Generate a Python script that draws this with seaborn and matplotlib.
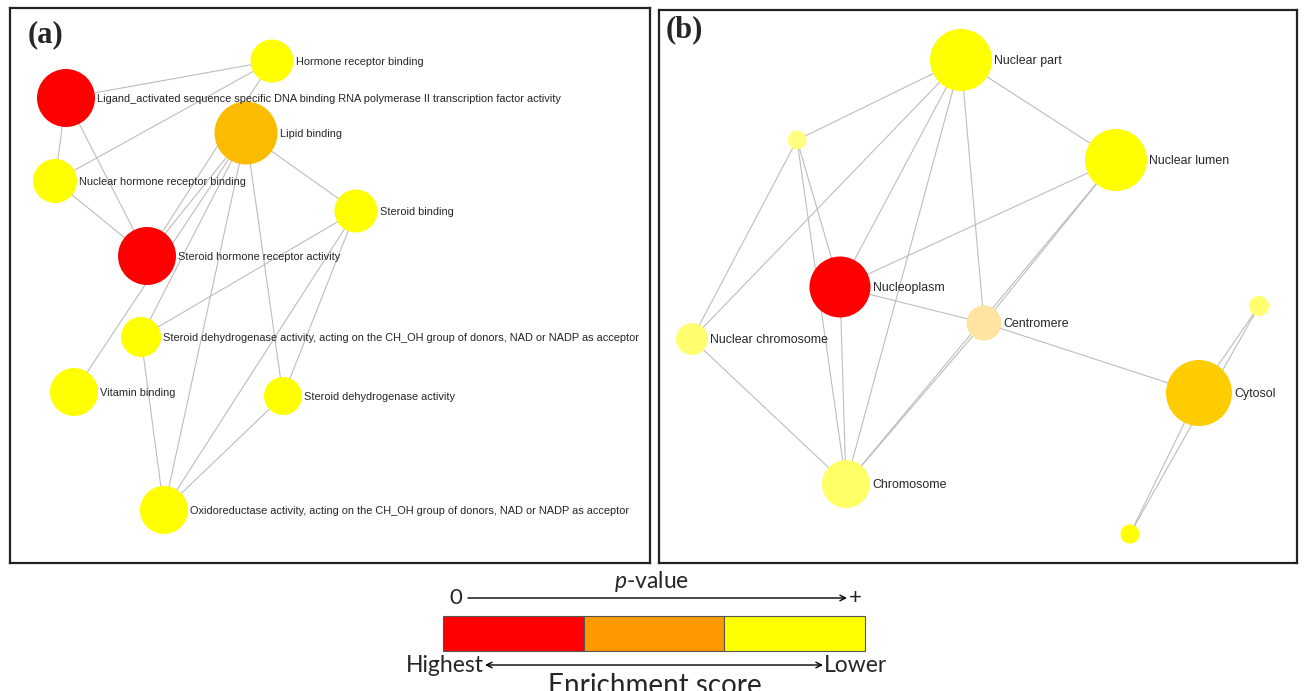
import numpy as np
import pandas as pd
import matplotlib
matplotlib.use("Agg")
import matplotlib.pyplot as plt
import seaborn as sns
from matplotlib import font_manager

W, H = 1306, 691

# panel (a): GO molecular function network
names_a = ["hrb", "lig", "lip", "nhrb", "sb", "shra", "sda1", "vit", "sda2", "oxi"]
labels_a = ["Hormone receptor binding",
            "Ligand_activated sequence specific DNA binding RNA polymerase II transcription factor activity",
            "Lipid binding",
            "Nuclear hormone receptor binding",
            "Steroid binding",
            "Steroid hormone receptor activity",
            "Steroid dehydrogenase activity, acting on the CH_OH group of donors, NAD or NADP as acceptor",
            "Vitamin binding",
            "Steroid dehydrogenase activity",
            "Oxidoreductase activity, acting on the CH_OH group of donors, NAD or NADP as acceptor"]
x_a = [272, 66, 246, 55, 356, 147, 141, 74, 283, 164]
y_a = [61, 98, 133, 181, 211, 256, 337, 392, 396, 510]
r_a = [21.5, 29, 31.5, 22, 21.5, 29, 20, 24, 19, 24]
col_a = ["#FFFF00", "#FF0000", "#FBBB00", "#FFFF00", "#FFFF00",
         "#FF0000", "#FFFF00", "#FFFF00", "#FFFF00", "#FFFF00"]
edges_a = [("lig", "hrb"), ("lig", "nhrb"), ("lig", "shra"), ("hrb", "nhrb"),
           ("hrb", "shra"), ("nhrb", "shra"), ("lip", "shra"), ("lip", "vit"),
           ("lip", "sda1"), ("lip", "oxi"), ("lip", "sda2"), ("lip", "sb"),
           ("sb", "sda1"), ("sb", "oxi"), ("sb", "sda2"), ("sda1", "oxi"),
           ("sda2", "oxi")]

# panel (b): GO cellular component network
names_b = ["npart", "n1", "lumen", "nplasm", "centro", "nchrom", "n2", "cyto", "chrom", "n3"]
labels_b = ["Nuclear part", "", "Nuclear lumen", "Nucleoplasm", "Centromere",
            "Nuclear chromosome", "", "Cytosol", "Chromosome", ""]
x_b = [961, 797, 1116, 840, 984, 692, 1259, 1199, 846, 1130]
y_b = [60, 140, 160, 287, 323, 339, 306, 393, 484, 534]
r_b = [31, 9.5, 31, 30.5, 17.5, 16, 10, 33, 24, 9.5]
col_b = ["#FFFF00", "#FFFF80", "#FFFF00", "#FF0000", "#FFE3A0",
         "#FFFF70", "#FFFF70", "#FFCC00", "#FFFF66", "#FFFF00"]
edges_b = [("npart", "n1"), ("npart", "nchrom"), ("npart", "nplasm"), ("npart", "chrom"),
           ("npart", "centro"), ("npart", "lumen"), ("n1", "nchrom"), ("n1", "nplasm"),
           ("n1", "chrom"), ("lumen", "nplasm"), ("lumen", "centro"), ("lumen", "chrom"),
           ("nplasm", "centro"), ("nplasm", "chrom"), ("centro", "cyto"), ("centro", "chrom"),
           ("nchrom", "chrom"), ("cyto", "n2"), ("cyto", "n3"), ("n2", "n3")]

# legend
legend_colors = ["#FF0000", "#FF9900", "#FFFF00"]

sns.set_style("white")
avail = {f.name for f in font_manager.fontManager.ttflist}
narrow = [f for f in ["Liberation Sans Narrow", "Arial Narrow"] if f in avail]
label_font = narrow[0] if narrow else "Liberation Sans"
label_scale = 1.0 if narrow else 0.84
plt.rcParams["font.family"] = ["Lato", "DejaVu Sans"]
plt.rcParams["mathtext.fontset"] = "custom"
plt.rcParams["mathtext.it"] = "Lato:italic"
plt.rcParams["mathtext.rm"] = "Lato"

EDGE = "#BDBDBD"


def px_axes(fig, left, top, right, bottom):
    ax = fig.add_axes([left / W, 1 - bottom / H, (right - left) / W, (bottom - top) / H])
    ax.set_xlim(left, right)
    ax.set_ylim(bottom, top)
    return ax


def draw_panel(ax, names, labels, xs, ys, rs, cols, edges, tag, tag_xy, fsize):
    df = pd.DataFrame({"node": names, "x": xs, "y": ys, "r": rs, "label": labels})
    pos = df.set_index("node")
    for a, b in edges:
        ax.plot([pos.x[a], pos.x[b]], [pos.y[a], pos.y[b]], color=EDGE, lw=0.8, zorder=1)
    sizes = dict(zip(names, (1.44 * np.array(rs)) ** 2))
    sns.scatterplot(data=df, x="x", y="y", hue="node", palette=dict(zip(names, cols)),
                    size="node", sizes=sizes, legend=False, linewidth=0, ax=ax, zorder=2)
    for _, row in df.iterrows():
        if row.label:
            ax.text(row.x + row.r + 2, row.y + 1, row.label, family=label_font,
                    fontsize=fsize, ha="left", va="center", zorder=3)
    ax.text(tag_xy[0], tag_xy[1], tag, family="Liberation Serif", fontweight="bold",
            fontsize=22, ha="left", va="center")
    ax.set_xlabel("")
    ax.set_ylabel("")
    ax.set_xticks([])
    ax.set_yticks([])
    for s in ax.spines.values():
        s.set_color("#222222")
        s.set_linewidth(1.6)


fig = plt.figure(figsize=(W / 100, H / 100), dpi=100)

ax_a = px_axes(fig, 10, 8, 650, 563)
draw_panel(ax_a, names_a, labels_a, x_a, y_a, r_a, col_a, edges_a, "(a)", (28, 35),
           9.4 * label_scale)

ax_b = px_axes(fig, 659, 10, 1297, 563)
draw_panel(ax_b, names_b, labels_b, x_b, y_b, r_b, col_b, edges_b, "(b)", (666, 30),
           10.6 * label_scale)

# colour key
ax_l = px_axes(fig, 400, 565, 900, 691)
ax_l.axis("off")
seg = (865 - 443) / len(legend_colors)
ax_l.barh(y=633.5, width=seg, left=443 + seg * np.arange(len(legend_colors)), height=35,
          color=legend_colors, edgecolor="#555555", linewidth=0.8)
ax_l.annotate("", xy=(847, 598), xytext=(468, 598),
              arrowprops=dict(arrowstyle="->", lw=1, color="black", shrinkA=0, shrinkB=0))
ax_l.annotate("", xy=(823, 665), xytext=(485, 665),
              arrowprops=dict(arrowstyle="<->", lw=1, color="black", shrinkA=0, shrinkB=0))
ax_l.text(456, 598, "0", fontsize=16, ha="center", va="center")
ax_l.text(855, 598, "+", fontsize=16, ha="center", va="center")
ax_l.text(652, 582, "$p$-value", fontsize=16.5, ha="center", va="center")
ax_l.text(484, 665, "Highest", fontsize=16.5, ha="right", va="center")
ax_l.text(824, 665, "Lower", fontsize=16.5, ha="left", va="center")
ax_l.text(655, 694, "Enrichment score", fontsize=20, ha="center", va="baseline")

fig.savefig("out.png", dpi=100, facecolor="white")
